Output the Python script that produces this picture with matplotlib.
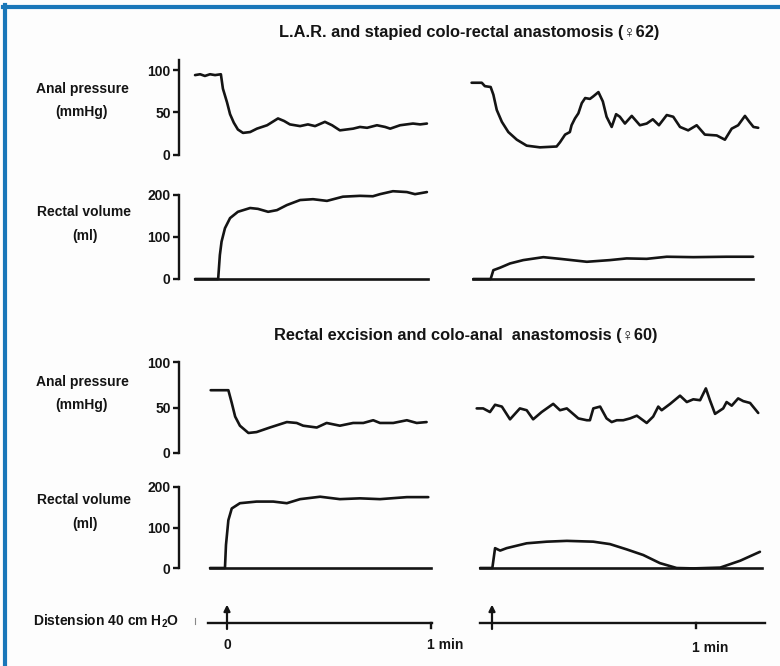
import matplotlib
matplotlib.use("Agg")
import matplotlib.pyplot as plt
from matplotlib.lines import Line2D

plt.rcParams['font.family'] = ['Liberation Sans', 'DejaVu Sans']
plt.rcParams['font.weight'] = 'bold'
plt.rcParams['mathtext.fontset'] = 'custom'
plt.rcParams['mathtext.rm'] = 'Liberation Sans:bold'
plt.rcParams['mathtext.it'] = 'Liberation Sans:bold'
plt.rcParams['mathtext.bf'] = 'Liberation Sans:bold'

# ---------------- data (time in s from start of distension) ----------------
# Case 1: L.A.R. and stapled colo-rectal anastomosis, first recording
lar1_p_t = [-9.4, -7.9, -6.5, -5.0, -3.5, -1.8, -1.2, 0.0, 0.9, 2.0, 3.2, 4.7, 6.8,
            8.8, 11.8, 15.0, 16.8, 18.5, 21.5, 23.8, 25.9, 28.8, 30.9, 33.2, 37.1,
            39.1, 41.2, 44.1, 46.5, 48.0, 50.9, 54.7, 56.8, 58.8]
lar1_p = [94, 95, 93, 95, 94, 95, 78, 62, 48, 38, 30, 26, 27,
          31, 35, 43, 40, 36, 34, 36, 34, 39, 35, 29, 31,
          33, 32, 35, 33, 31, 35, 37, 36, 37]
lar1_v_t = [-9.4, -2.6, -2.1, -1.6, -0.6, 0.9, 3.2, 6.8, 9.1, 12.1, 14.7, 17.6, 21.5,
            25.3, 29.4, 34.1, 39.1, 42.9, 45.0, 48.8, 52.9, 55.3, 58.8]
lar1_v = [0, 0, 57, 89, 121, 145, 160, 169, 167, 160, 164, 176, 188,
          190, 186, 196, 198, 197, 202, 209, 207, 202, 207]

# Case 1, second recording
lar2_p_t = [-6.0, -3.0, -2.1, -0.4, 0.4, 1.4, 2.9, 4.8, 7.3, 10.2, 14.1, 19.0, 20.0,
            21.5, 22.9, 23.4, 24.4, 25.4, 26.4, 27.4, 28.8, 29.8, 31.3, 32.6, 33.7,
            35.2, 36.5, 37.6, 39.1, 41.1, 43.5, 45.5, 47.3, 49.1, 51.4, 53.3, 55.3,
            57.7, 60.2, 62.6, 66.1, 68.5, 70.5, 72.4, 74.4, 75.7, 76.9, 78.3]
lar2_p = [85, 85, 81, 80, 71, 53, 39, 27, 18, 11, 9, 10, 15,
          24, 27, 35, 43, 49, 61, 67, 66, 69, 74, 63, 45,
          33, 48, 45, 37, 46, 35, 37, 42, 35, 47, 45, 33,
          29, 35, 24, 23, 18, 31, 35, 46, 39, 33, 32]
lar2_v_t = [-5.5, -0.4, 0.4, 2.4, 5.3, 9.2, 15.1, 20.0, 27.9, 34.7, 39.6, 45.5,
            51.4, 59.2, 69.0, 76.8]
lar2_v = [0, 0, 21, 27, 37, 45, 52, 48, 41, 45, 49, 48, 53, 52, 53, 53]

# Case 2: rectal excision and colo-anal anastomosis, first recording
ca1_p_t = [-4.8, 0.4, 1.4, 2.4, 3.8, 6.3, 8.7, 12.6, 17.6, 20.5, 22.4, 26.4, 29.3,
           33.2, 37.1, 40.1, 43.0, 45.0, 48.9, 52.9, 55.8, 58.7]
ca1_p = [69, 69, 55, 40, 30, 22, 23, 28, 34, 33, 30, 28, 33,
         30, 33, 33, 36, 33, 33, 36, 33, 34]
ca1_v_t = [-5.0, -0.6, -0.3, 0.4, 1.4, 3.8, 8.7, 13.6, 17.6, 21.5, 27.4, 33.2,
           39.1, 45.0, 52.9, 59.2]
ca1_v = [0, 0, 57, 118, 147, 160, 164, 164, 160, 170, 176, 170, 172, 170, 175, 175]

# Case 2, second recording
ca2_p_t = [-4.5, -2.6, -0.6, 0.9, 2.9, 5.3, 8.2, 10.2, 12.1, 14.6, 18.0, 20.0, 22.0,
           25.4, 27.9, 28.8, 29.8, 31.8, 33.7, 35.2, 36.7, 38.6, 40.6, 42.6, 45.5,
           47.4, 48.9, 49.9, 52.4, 55.3, 57.3, 59.2, 61.2, 62.9, 64.1, 65.6, 68.0,
           69.0, 70.5, 72.4, 73.9, 75.9, 78.3]
ca2_p = [49, 49, 45, 53, 51, 37, 49, 47, 37, 45, 54, 47, 49,
         38, 36, 36, 49, 51, 38, 34, 36, 36, 38, 41, 33,
         40, 51, 47, 54, 63, 56, 59, 58, 71, 58, 43, 49,
         56, 52, 60, 57, 55, 44]
ca2_v_t = [-3.5, 0.1, 0.9, 2.4, 4.3, 10.2, 16.1, 22.0, 29.8, 34.7, 39.6, 44.5,
           49.4, 54.3, 59.2, 67.1, 73.0, 78.8]
ca2_v = [0, 0, 49, 43, 49, 61, 65, 67, 65, 59, 46, 32, 12, 0, -1, 1, 18, 40]

# Zero reference lines under the volume traces (time span)
lar1_base = [-9.4, 59.0]
lar2_base = [-5.5, 76.8]
ca1_base = [-5.0, 60.0]
ca2_base = [-3.5, 79.5]

# Distension marker rows
dist_left_span = [-5.6, 60.3]
dist_right_span = [-3.5, 80.3]
dist_on = 0
one_min = 60

titles = ["L.A.R. and stapied colo-rectal anastomosis (\u264062)",
          "Rectal excision and colo-anal  anastomosis (\u264060)"]
pressure_ticks = [0, 50, 100]
volume_ticks = [0, 100, 200]

# ---------------- layout ----------------
W, H = 780, 666
INK = '#141414'
BLUE = '#1a77b9'
PX_PER_S = 3.4
LEFT = (179, 440, 227)    # left px, right px, px of t=0
RIGHT = (462, 775, 492)
LW = 1.9

fig = plt.figure(figsize=(W / 100, H / 100), dpi=100, facecolor='#fdfdfd')


def add_ax(col, ytop, ybot):
    x0, x1, z = col
    ax = fig.add_axes([x0 / W, 1 - ybot / H, (x1 - x0) / W, (ybot - ytop) / H])
    ax.set_xlim((x0 - z) / PX_PER_S, (x1 - z) / PX_PER_S)
    ax.patch.set_visible(False)
    for s in ax.spines.values():
        s.set_visible(False)
    ax.set_xticks([])
    ax.set_yticks([])
    return ax


def scale_ax(ytop, ybot, ymax, spine_top, ticks):
    ax = add_ax(LEFT, ytop, ybot)
    ax.set_ylim(0, ymax)
    ax.spines['left'].set_visible(True)
    ax.spines['left'].set_bounds(0, spine_top)
    ax.spines['left'].set_linewidth(1.7)
    ax.spines['left'].set_color(INK)
    ax.set_yticks(ticks)
    ax.tick_params(axis='y', direction='out', length=4, width=1.7, pad=2,
                   colors=INK, labelsize=10)
    for lab in ax.get_yticklabels():
        lab.set_fontweight('bold')
    return ax


def trace(ax, t, y):
    ax.plot(t, y, color=INK, lw=LW, solid_joinstyle='round',
            solid_capstyle='round', clip_on=False)


def ftext(x, y, s, ha='center', size=10):
    fig.text(x / W, 1 - y / H, s, ha=ha, va='center', fontsize=size,
             fontweight='bold', color=INK)


rows = [
    # ytop, ybot, ymax, spine top, ticks, left data, right data, baselines
    (59.8, 155, 112, 112, pressure_ticks, (lar1_p_t, lar1_p), (lar2_p_t, lar2_p), None),
    (195, 279, 200, 200, volume_ticks, (lar1_v_t, lar1_v), (lar2_v_t, lar2_v), (lar1_base, lar2_base)),
    (362, 453, 100, 100, pressure_ticks, (ca1_p_t, ca1_p), (ca2_p_t, ca2_p), None),
    (487, 568, 200, 200, volume_ticks, (ca1_v_t, ca1_v), (ca2_v_t, ca2_v), (ca1_base, ca2_base)),
]

for ytop, ybot, ymax, stop, ticks, ldat, rdat, bases in rows:
    axl = scale_ax(ytop, ybot, ymax, stop, ticks)
    axr = add_ax(RIGHT, ytop, ybot)
    axr.set_ylim(0, ymax)
    trace(axl, *ldat)
    trace(axr, *rdat)
    if bases is not None:
        axl.plot(bases[0], [0, 0], color=INK, lw=LW, clip_on=False)
        axr.plot(bases[1], [0, 0], color=INK, lw=LW, clip_on=False)

# Side labels
for yp, yv in [(89, 212), (382, 500)]:
    ftext(82, yp, "Anal pressure")
    ftext(82, yp + 23, "(mmHg)")
    ftext(84, yv, "Rectal volume")
    ftext(85, yv + 24, "(ml)")

ftext(469, 33, titles[0], size=11.8)
ftext(466, 335, titles[1], size=11.8)

# Distension marker row
ftext(33, 621, r"Distension 40 cm H$_{\mathrm{2}}$O", ha='left')
fig.add_artist(Line2D([195 / W, 195 / W], [1 - 618 / H, 1 - 624 / H],
                      color='#888888', lw=0.8))
for col, span, lab_y in [(LEFT, dist_left_span, -1.1), (RIGHT, dist_right_span, -1.25)]:
    ax = add_ax(col, 603, 643)
    ax.set_ylim(-1, 1)
    ax.plot(span, [0, 0], color=INK, lw=1.7, clip_on=False)
    ax.plot([one_min, one_min], [0, -0.25], color=INK, lw=1.7, clip_on=False)
    ax.annotate('', xy=(dist_on, 0.92), xytext=(dist_on, -0.3),
                arrowprops=dict(arrowstyle='-|>', lw=1.6, color=INK,
                                mutation_scale=9, shrinkA=0, shrinkB=0),
                annotation_clip=False)
    if col is LEFT:
        ax.text(dist_on, lab_y, "0", ha='center', va='center', fontsize=10,
                fontweight='bold', color=INK, clip_on=False)
    ax.text(one_min - 1.3, lab_y, "1 min", ha='left', va='center', fontsize=10,
            fontweight='bold', color=INK, clip_on=False)

# Frame edges
fig.add_artist(Line2D([3 / W, 1], [1 - 7 / H, 1 - 7 / H], color=BLUE, lw=3))
fig.add_artist(Line2D([5 / W, 5 / W], [0, 1 - 5 / H], color=BLUE, lw=3))

fig.savefig("out.png", dpi=100, facecolor=fig.get_facecolor())
